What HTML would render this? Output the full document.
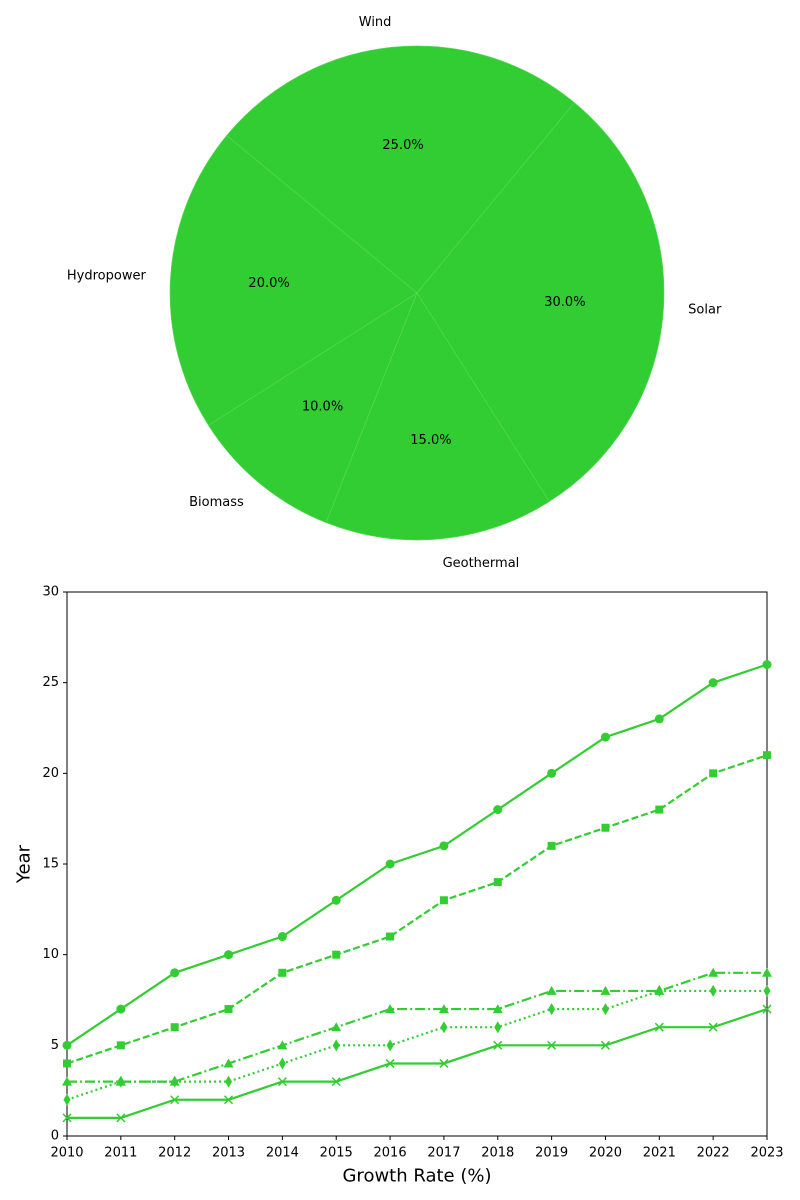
<!DOCTYPE html>
<html><head><meta charset="utf-8"><style>
body{margin:0;background:#fff;}
svg{display:block;font-family:"DejaVu Sans","Liberation Sans",sans-serif;}
</style></head><body>
<svg id="c" width="800" height="1200" xmlns="http://www.w3.org/2000/svg"></svg>
<script>
const pieLabels=["Solar","Wind","Hydropower","Biomass","Geothermal"];
const pieValues=[30,25,20,10,15];
const years=[2010,2011,2012,2013,2014,2015,2016,2017,2018,2019,2020,2021,2022,2023];
const s1=[5,7,9,10,11,13,15,16,18,20,22,23,25,26];
const s2=[4,5,6,7,9,10,11,13,14,16,17,18,20,21];
const s3=[3,3,3,4,5,6,7,7,7,8,8,8,9,9];
const s4=[2,3,3,3,4,5,5,6,6,7,7,8,8,8];
const s5=[1,1,2,2,3,3,4,4,5,5,5,6,6,7];
const yTicks=[0,5,10,15,20,25,30];

const NS="http://www.w3.org/2000/svg";
const svg=document.getElementById('c');
const G="#32cd32";
function mk(tag,attrs,parent){const e=document.createElementNS(NS,tag);for(const k in attrs)e.setAttribute(k,attrs[k]);(parent||svg).appendChild(e);return e;}
function txt(s,x,y,size,anchor,parent){const t=mk('text',{x:x,y:y,'font-size':size,'text-anchor':anchor||'middle','dominant-baseline':'central',fill:'#000'},parent);t.textContent=s;return t;}

// Pie
const cx=417,cy=293,R=247;
const total=pieValues.reduce((a,b)=>a+b,0);
let ang=-57.6;
const pie=mk('g',{});


pieValues.forEach((v,i)=>{
  const a0=ang, a1=ang+v/total*360; ang=a1;
  const r0=a0*Math.PI/180, r1=a1*Math.PI/180;
  const x0=cx+R*Math.cos(r0), y0=cy-R*Math.sin(r0), x1=cx+R*Math.cos(r1), y1=cy-R*Math.sin(r1);
  const large=(a1-a0)>180?1:0;
  const p=mk('path',{d:`M${cx},${cy} L${x0},${y0} A${R},${R} 0 ${large} 0 ${x1},${y1} Z`,fill:G,stroke:'#5ad85a','stroke-width':0.6},pie);
  
  
  const m=(a0+a1)/2*Math.PI/180;
  const l=txt(pieLabels[i],cx+1.1*R*Math.cos(m),cy-1.1*R*Math.sin(m),13,Math.cos(m)>0?'start':'end',pie);
  
  
  const pc=txt(v.toFixed(1)+'%',cx+0.6*R*Math.cos(m),cy-0.6*R*Math.sin(m),13,'middle',pie);
  
  
});

// Line chart
const X0=67,X1=767,Y0=1136,Y1=592;
const xs=y=>X0+(y-years[0])/(years[years.length-1]-years[0])*(X1-X0);
const ys=v=>Y0-v/30*(Y0-Y1);
const lc=mk('g',{});


const frame=mk('rect',{x:X0,y:Y1,width:X1-X0,height:Y0-Y1,fill:'none',stroke:'#000','stroke-width':1},lc);


years.forEach(y=>{
  mk('line',{x1:xs(y),x2:xs(y),y1:Y0,y2:Y0+4,stroke:'#000'},lc);
  const t=txt(String(y),xs(y),Y0+17,13,'middle',lc);
  
  
});
yTicks.forEach(v=>{
  mk('line',{x1:X0-4,x2:X0,y1:ys(v),y2:ys(v),stroke:'#000'},lc);
  const t=txt(String(v),X0-8,ys(v),13,'end',lc);
  
  
});
const xt=txt('Growth Rate (%)',417,1176,18,'middle',lc);


const yt=txt('Year',24,864,18,'middle',lc);
yt.setAttribute('transform','rotate(-90 24 864)');



const series=[[s1,'','o'],[s2,'7,3','s'],[s3,'10,3,2,3','^'],[s4,'2,3','d'],[s5,'','x']];
series.forEach(([d,dash,mkr],si)=>{
  const g=mk('g',{},lc);
  
  
  const pts=d.map((v,i)=>xs(years[i])+','+ys(v)).join(' ');
  const ln=mk('polyline',{points:pts,fill:'none',stroke:G,'stroke-width':2.2,'stroke-dasharray':dash},g);
  
  
  d.forEach((v,i)=>{
    const x=xs(years[i]),y=ys(v);let m;
    if(mkr==='o')m=mk('circle',{cx:x,cy:y,r:4.5,fill:G},g);
    else if(mkr==='s')m=mk('rect',{x:x-4,y:y-4,width:8,height:8,fill:G},g);
    else if(mkr==='^')m=mk('polygon',{points:`${x},${y-5} ${x-5},${y+4} ${x+5},${y+4}`,fill:G},g);
    else if(mkr==='d')m=mk('polygon',{points:`${x},${y-6} ${x-3.5},${y} ${x},${y+6} ${x+3.5},${y}`,fill:G},g);
    else m=mk('path',{d:`M${x-4},${y-4}L${x+4},${y+4}M${x-4},${y+4}L${x+4},${y-4}`,stroke:G,'stroke-width':1.5},g);
    
    
  });
});
</script>
</body></html>
